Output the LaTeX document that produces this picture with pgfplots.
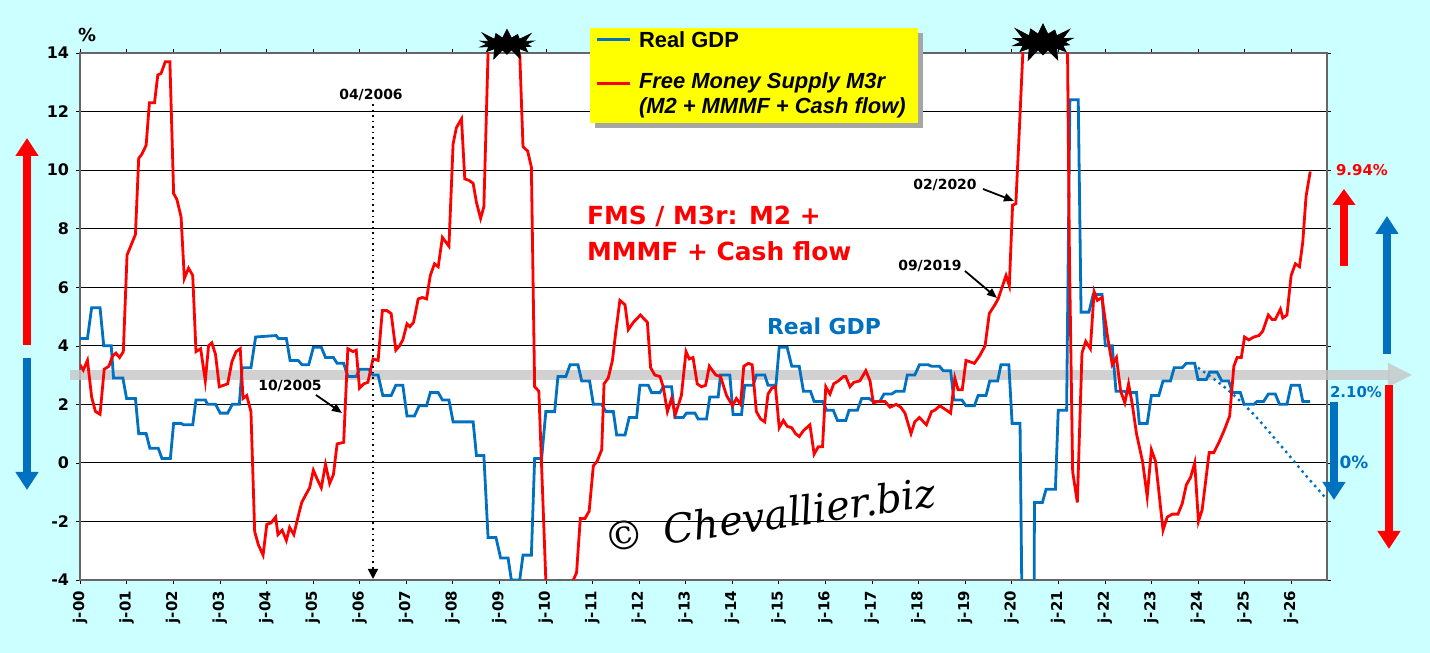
\documentclass[border=0pt]{standalone}
\usepackage{pgfplots}
\pgfplotsset{compat=1.18}
\usepackage{fontspec}
\setmainfont{DejaVu Sans}
\newfontfamily\arial{Liberation Sans}
\newfontfamily\serifit{DejaVu Serif}
\usetikzlibrary{shapes.symbols,arrows.meta}
\definecolor{bg}{RGB}{204,255,255}
\definecolor{gdp}{RGB}{0,112,192}
\definecolor{legy}{RGB}{255,255,0}
\begin{document}
\begin{tikzpicture}
\useasboundingbox (0,0) rectangle (715bp,326.5bp);
\fill[bg] (0,0) rectangle (715bp,326.5bp);
\begin{axis}[at={(40bp,36.5bp)},anchor=south west,scale only axis,
 width=623.5bp,height=263.5bp,
 xmin=2000,xmax=2026.77,ymin=-4,ymax=14,
 xtick={2000,...,2026},
 xticklabels={j-00,j-01,j-02,j-03,j-04,j-05,j-06,j-07,j-08,j-09,j-10,j-11,j-12,j-13,j-14,j-15,j-16,j-17,j-18,j-19,j-20,j-21,j-22,j-23,j-24,j-25,j-26},
 ytick={-4,-2,...,14},
 xticklabel style={rotate=90,anchor=east,font=\bfseries\fontsize{7.5}{8}\selectfont},
 yticklabel style={font=\bfseries\fontsize{8}{9}\selectfont},
 /pgf/number format/assume math mode=true,
 ymajorgrids, grid style={black,line width=0.5pt},
 axis line style={gray!80!black,line width=0.8pt},
 major tick style={black},tick align=outside,major tick length=2bp,
 axis background/.style={fill=white},
 clip=true]
\addplot[gray!45,line width=5bp,opacity=0.8,forget plot] coordinates {(2000,3)(2026.77,3)};
% Real GDP
\addplot[gdp,line width=1.4bp] coordinates {
(2000.00,4.25)(2000.16,4.25)(2000.25,5.3)(2000.43,5.3)(2000.51,4.0)(2000.67,4.0)(2000.72,2.9)(2000.92,2.9)
(2001.00,2.2)(2001.19,2.2)(2001.26,1.0)(2001.42,1.0)(2001.50,0.5)(2001.68,0.5)(2001.76,0.15)(2001.94,0.15)
(2002.01,1.35)(2002.17,1.35)(2002.22,1.3)(2002.42,1.3)(2002.49,2.15)(2002.69,2.15)(2002.74,2.0)(2002.91,2.0)
(2003.01,1.7)(2003.17,1.7)(2003.27,2.0)(2003.42,2.0)(2003.48,3.25)(2003.67,3.25)(2003.77,4.3)(2004.21,4.35)
(2004.26,4.25)(2004.43,4.25)(2004.51,3.5)(2004.68,3.5)(2004.77,3.35)(2004.91,3.35)(2005.01,3.95)(2005.18,3.95)
(2005.27,3.6)(2005.44,3.6)(2005.52,3.4)(2005.66,3.4)(2005.75,2.95)(2005.93,2.95)(2006.00,3.2)(2006.20,3.2)
(2006.29,3.0)(2006.40,3.0)(2006.50,2.3)(2006.68,2.3)(2006.78,2.65)(2006.93,2.65)(2007.02,1.6)(2007.18,1.6)
(2007.28,1.95)(2007.44,1.95)(2007.52,2.4)(2007.69,2.4)(2007.78,2.15)(2007.92,2.15)(2008.01,1.4)(2008.44,1.4)
(2008.51,0.25)(2008.67,0.25)(2008.76,-2.55)(2008.93,-2.55)(2009.03,-3.25)(2009.19,-3.25)(2009.26,-4.0)(2009.44,-4.0)
(2009.51,-3.15)(2009.69,-3.15)(2009.76,0.15)(2009.91,0.15)(2010.00,1.75)(2010.19,1.75)(2010.26,2.95)(2010.43,2.95)
(2010.52,3.35)(2010.69,3.35)(2010.77,2.8)(2010.94,2.8)(2011.02,2.0)(2011.20,2.0)(2011.29,1.75)(2011.45,1.75)
(2011.52,0.95)(2011.70,0.95)(2011.79,1.55)(2011.95,1.55)(2012.02,2.65)(2012.20,2.65)(2012.27,2.4)(2012.45,2.4)
(2012.52,2.6)(2012.70,2.6)(2012.77,1.55)(2012.95,1.55)(2013.02,1.7)(2013.20,1.7)(2013.27,1.5)(2013.45,1.5)
(2013.52,2.25)(2013.70,2.25)(2013.75,3.0)(2013.95,3.0)(2014.02,1.65)(2014.20,1.65)(2014.27,2.65)(2014.45,2.65)
(2014.52,3.0)(2014.70,3.0)(2014.77,2.65)(2014.94,2.65)(2015.01,3.95)(2015.18,3.95)(2015.28,3.3)(2015.44,3.3)
(2015.53,2.45)(2015.68,2.45)(2015.76,2.1)(2015.94,2.1)(2016.03,1.8)(2016.17,1.8)(2016.26,1.45)(2016.44,1.45)
(2016.51,1.8)(2016.69,1.8)(2016.78,2.2)(2016.94,2.2)(2017.03,2.1)(2017.17,2.1)(2017.26,2.35)(2017.42,2.35)
(2017.52,2.45)(2017.69,2.45)(2017.76,3.0)(2017.92,3.0)(2018.02,3.35)(2018.21,3.35)(2018.28,3.3)(2018.45,3.3)
(2018.53,3.15)(2018.69,3.15)(2018.76,2.15)(2018.93,2.15)(2019.02,1.95)(2019.20,1.95)(2019.28,2.3)(2019.45,2.3)
(2019.53,2.8)(2019.70,2.8)(2019.77,3.35)(2019.94,3.35)(2020.01,1.35)(2020.18,1.35)(2020.25,-9)(2020.47,-9)
(2020.49,-1.35)(2020.66,-1.35)(2020.74,-0.9)(2020.94,-0.9)(2021.00,1.8)(2021.18,1.8)(2021.25,12.4)(2021.43,12.4)
(2021.49,5.15)(2021.66,5.15)(2021.75,5.75)(2021.94,5.75)(2022.01,4.0)(2022.16,4.0)(2022.24,2.45)(2022.41,2.45)
(2022.49,2.4)(2022.68,2.4)(2022.74,1.35)(2022.91,1.35)(2023.00,2.3)(2023.16,2.3)(2023.25,2.8)(2023.41,2.8)
(2023.49,3.25)(2023.66,3.25)(2023.75,3.4)(2023.93,3.4)(2024.00,2.85)(2024.18,2.85)(2024.25,3.1)(2024.41,3.1)
(2024.51,2.8)(2024.66,2.8)(2024.74,2.4)(2024.91,2.4)(2024.99,2.0)(2025.20,2.0)(2025.27,2.1)(2025.41,2.1)
(2025.51,2.35)(2025.66,2.35)(2025.75,2.0)(2025.91,2.0)(2026.00,2.65)(2026.18,2.65)(2026.25,2.1)(2026.41,2.1)};
\addplot[gdp,line width=1.2bp,dotted,smooth] coordinates {(2024.0,3.25)(2024.6,2.55)(2025.2,1.65)(2025.8,0.55)(2026.3,-0.4)(2026.77,-1.25)};
% Free Money Supply
\addplot[red,line width=1.4bp] coordinates {
(2000.00,3.35)(2000.07,3.17)(2000.16,3.5)(2000.25,2.25)(2000.33,1.76)(2000.43,1.66)(2000.52,3.2)(2000.62,3.3)
(2000.70,3.65)(2000.77,3.75)(2000.85,3.6)(2000.93,3.8)(2001.01,7.1)(2001.10,7.45)(2001.19,7.8)(2001.26,10.4)
(2001.33,10.55)(2001.42,10.85)(2001.49,12.3)(2001.60,12.3)(2001.67,13.25)(2001.74,13.3)(2001.83,13.7)(2001.93,13.7)
(2002.01,9.2)(2002.08,9.0)(2002.17,8.4)(2002.24,6.3)(2002.33,6.65)(2002.42,6.4)(2002.49,3.8)(2002.59,3.9)
(2002.69,2.8)(2002.76,4.0)(2002.83,4.1)(2002.91,3.7)(2002.99,2.6)(2003.08,2.65)(2003.17,2.7)(2003.26,3.45)
(2003.35,3.8)(2003.44,3.9)(2003.50,2.2)(2003.58,2.3)(2003.67,1.75)(2003.75,-2.35)(2003.83,-2.8)(2003.93,-3.15)
(2004.01,-2.1)(2004.10,-2.05)(2004.20,-1.85)(2004.25,-2.45)(2004.34,-2.3)(2004.43,-2.65)(2004.50,-2.2)(2004.59,-2.45)
(2004.68,-1.85)(2004.76,-1.35)(2004.86,-1.05)(2004.93,-0.85)(2005.01,-0.25)(2005.09,-0.55)(2005.18,-0.85)(2005.27,-0.05)
(2005.36,-0.7)(2005.44,-0.4)(2005.52,0.65)(2005.66,0.7)(2005.75,3.9)(2005.86,3.8)(2005.93,3.85)(2006.00,2.55)
(2006.09,2.7)(2006.18,2.75)(2006.29,3.55)(2006.40,3.5)(2006.49,5.2)(2006.59,5.2)(2006.68,5.1)(2006.78,3.85)
(2006.86,4.0)(2006.93,4.2)(2007.02,4.75)(2007.08,4.65)(2007.16,4.8)(2007.26,5.6)(2007.35,5.65)(2007.44,5.6)
(2007.52,6.4)(2007.61,6.8)(2007.69,6.7)(2007.78,7.7)(2007.92,7.4)(2008.01,10.9)(2008.08,11.45)(2008.19,11.75)
(2008.26,9.7)(2008.35,9.65)(2008.44,9.55)(2008.51,8.9)(2008.60,8.35)(2008.67,8.75)(2008.76,14)(2008.85,17)
(2009.3,17)(2009.44,14)(2009.51,10.8)(2009.61,10.65)(2009.69,10.1)(2009.76,2.6)(2009.85,2.45)(2010.00,-4)
(2010.2,-8)(2010.45,-8)(2010.59,-4)(2010.66,-3.75)(2010.74,-1.9)(2010.84,-1.9)(2010.93,-1.65)(2011.02,-0.1)
(2011.10,0.05)(2011.20,0.45)(2011.25,2.7)(2011.34,2.9)(2011.43,3.5)(2011.50,4.45)(2011.59,5.55)(2011.70,5.4)
(2011.77,4.55)(2011.88,4.8)(2012.03,5.05)(2012.18,4.8)(2012.25,3.25)(2012.34,3.0)(2012.45,2.95)(2012.52,2.6)
(2012.61,1.75)(2012.70,2.2)(2012.78,1.65)(2012.91,2.3)(2013.01,3.8)(2013.08,3.55)(2013.16,3.6)(2013.25,2.7)
(2013.34,2.6)(2013.43,2.65)(2013.51,3.3)(2013.65,3.0)(2013.75,2.95)(2013.88,2.3)(2014.01,1.95)(2014.09,2.2)
(2014.18,2.0)(2014.25,3.3)(2014.35,3.4)(2014.43,3.35)(2014.52,1.75)(2014.61,1.5)(2014.70,1.4)(2014.77,2.35)
(2014.85,2.55)(2014.93,2.6)(2015.01,1.2)(2015.10,1.45)(2015.18,1.25)(2015.28,1.2)(2015.36,1.0)(2015.44,0.9)
(2015.53,1.1)(2015.67,1.3)(2015.76,0.3)(2015.85,0.55)(2015.94,0.55)(2016.01,2.6)(2016.10,2.35)(2016.18,2.7)
(2016.28,2.8)(2016.39,2.95)(2016.44,2.95)(2016.53,2.6)(2016.61,2.75)(2016.74,2.8)(2016.87,3.15)(2016.96,2.8)
(2017.03,2.05)(2017.14,2.1)(2017.28,2.1)(2017.39,1.9)(2017.52,2.0)(2017.62,1.9)(2017.71,1.7)(2017.84,1.0)
(2017.92,1.4)(2018.02,1.55)(2018.17,1.3)(2018.28,1.75)(2018.35,1.8)(2018.46,1.95)(2018.60,1.8)(2018.69,1.7)
(2018.78,2.9)(2018.85,2.5)(2018.94,2.5)(2019.02,3.5)(2019.11,3.45)(2019.20,3.4)(2019.31,3.65)(2019.43,4.0)
(2019.52,5.1)(2019.64,5.4)(2019.71,5.6)(2019.88,6.4)(2019.95,6.05)(2020.02,8.8)(2020.09,8.85)(2020.16,11.2)
(2020.24,14)(2020.4,17)(2021.0,17)(2021.20,14)(2021.24,7.15)(2021.31,-0.3)(2021.41,-1.35)(2021.51,3.75)
(2021.59,4.15)(2021.69,3.9)(2021.77,5.85)(2021.84,5.55)(2021.94,5.65)(2022.06,4.3)(2022.16,3.35)(2022.25,3.6)
(2022.34,2.45)(2022.43,2.05)(2022.51,2.7)(2022.59,2.0)(2022.68,1.0)(2022.81,0.05)(2022.91,-1.15)(2023.00,0.45)
(2023.09,0.05)(2023.25,-2.3)(2023.34,-1.85)(2023.45,-1.75)(2023.57,-1.75)(2023.66,-1.4)(2023.75,-0.75)(2023.84,-0.5)
(2023.93,0.0)(2024.01,-2.0)(2024.09,-1.6)(2024.24,0.35)(2024.34,0.35)(2024.45,0.7)(2024.56,1.1)(2024.68,1.6)
(2024.77,3.3)(2024.84,3.6)(2024.93,3.6)(2025.00,4.3)(2025.09,4.2)(2025.20,4.3)(2025.31,4.35)(2025.39,4.5)
(2025.51,5.05)(2025.59,4.9)(2025.66,4.9)(2025.77,5.25)(2025.82,4.95)(2025.91,5.05)(2026.00,6.4)(2026.09,6.8)
(2026.18,6.7)(2026.25,7.55)(2026.32,9.1)(2026.41,9.95)};
\end{axis}
\begin{scope}[x=0.5bp,y=-0.5bp,yshift=326.5bp]
% gray arrow extension
\fill[gray!45,opacity=0.8] (70,370) rectangle (80,380);
\fill[gray!45,opacity=0.8] (1327,370) rectangle (1390,380);
\fill[gray!45,opacity=0.8] (1388,363) -- (1412,375) -- (1388,387) -- cycle;
% starbursts
\node[starburst,fill=black,draw=black,inner sep=0pt,minimum width=32bp,minimum height=18bp,starburst points=14,starburst point height=6bp] at (507,44) {};
\node[starburst,fill=black,draw=black,inner sep=0pt,minimum width=36bp,minimum height=22bp,starburst points=14,starburst point height=7bp] at (1043,42) {};
% percent
\node[font=\bfseries\fontsize{9}{10}\selectfont] at (87,35) {\%};
% legend
\fill[black!35] (595,33) rectangle (923,128);
\fill[legy] (590,28) rectangle (918,123);
\draw[gdp,line width=1.5bp] (597,40) -- (630,40);
\node[anchor=west,font=\arial\bfseries\fontsize{11}{12}\selectfont] at (632,40) {Real GDP};
\draw[red,line width=1.5bp] (597,84) -- (630,84);
\node[anchor=west,font=\arial\bfseries\itshape\fontsize{11}{12}\selectfont] at (632,83) {Free Money Supply M3r};
\node[anchor=west,font=\arial\bfseries\itshape\fontsize{11}{12}\selectfont] at (632,108) {(M2 + MMMF + Cash flow)};
% texts
\node[anchor=west,red,font=\bfseries\fontsize{12.5}{14}\selectfont] at (580,216) {FMS / M3r: M2 +};
\node[anchor=west,red,font=\bfseries\fontsize{12.5}{14}\selectfont] at (580,251) {MMMF + Cash flow};
\node[anchor=west,gdp,font=\bfseries\fontsize{11}{12}\selectfont] at (760,326) {Real GDP};
\node[font=\bfseries\fontsize{7}{8}\selectfont] at (371,95) {04/2006};
\draw[dotted,line width=0.8pt,-{Triangle[length=5bp,width=5bp]}] (373,104) -- (373,579);
\node[font=\bfseries\fontsize{7}{8}\selectfont] at (290,386) {10/2005};
\draw[line width=0.9pt,-{Triangle[length=5bp,width=4bp]}] (316,395) -- (342,413);
\node[font=\bfseries\fontsize{7}{8}\selectfont] at (945,185) {02/2020};
\draw[line width=0.9pt,-{Triangle[length=5bp,width=4bp]}] (983,189) -- (1014,201);
\node[font=\bfseries\fontsize{7}{8}\selectfont] at (930,266) {09/2019};
\draw[line width=0.9pt,-{Triangle[length=5bp,width=4bp]}] (965,271) -- (997,298);
\node[red,font=\bfseries\fontsize{7.5}{8}\selectfont] at (1362,170) {9.94\%};
% big arrows
\draw[red,line width=4bp,-{Triangle[length=9bp,width=11bp]}] (27,345) -- (27,138);
\draw[gdp,line width=4bp,-{Triangle[length=9bp,width=11bp]}] (27,358) -- (27,490);
\draw[red,line width=4bp,-{Triangle[length=8bp,width=11bp]}] (1344,266) -- (1344,189);
\draw[gdp,line width=4bp,-{Triangle[length=9bp,width=11bp]}] (1387,354) -- (1387,216);
\draw[gdp,line width=4bp,-{Triangle[length=9bp,width=11bp]}] (1334,402) -- (1334,500);
\draw[red,line width=4bp,-{Triangle[length=9bp,width=11bp]}] (1389,385) -- (1389,549);
\node[gdp,font=\bfseries\fontsize{7.5}{8}\selectfont,fill=bg,inner sep=1pt] at (1356,392) {2.10\%};
\node[gdp,font=\bfseries\fontsize{8.5}{9}\selectfont] at (1354,462) {0\%};
% watermark
\node[rotate=8,font=\serifit\itshape\fontsize{20}{22}\selectfont] at (770,515) {©\, Chevallier.biz};
\end{scope}
\end{tikzpicture}
\end{document}
